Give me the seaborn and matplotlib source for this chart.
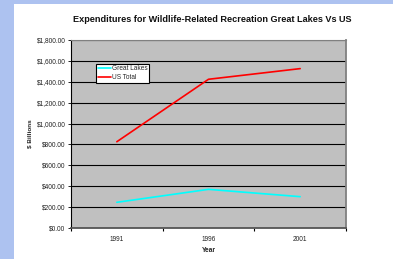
import matplotlib
matplotlib.use("Agg")
import matplotlib.pyplot as plt
from matplotlib.patches import Rectangle
import seaborn as sns
import pandas as pd

years = ["1991", "1996", "2001"]
great_lakes = [246, 370, 300]
us_total = [826, 1424, 1526]

df = pd.DataFrame({
    "Year": years * 2,
    "Spend": great_lakes + us_total,
    "Series": ["Great Lakes"] * 3 + ["US Total"] * 3,
})

sns.set_style("white")
plt.rcParams["font.family"] = ["Liberation Sans", "DejaVu Sans"]

fig = plt.figure(figsize=(3.93, 2.59), dpi=100)
fig.patch.set_facecolor("white")
# slide background strips
fig.patches.append(Rectangle((0, 0), 14 / 393, 1, transform=fig.transFigure,
                             facecolor="#adc2f0", edgecolor="none", zorder=0))
fig.patches.append(Rectangle((0, 1 - 4 / 259), 1, 4 / 259, transform=fig.transFigure,
                             facecolor="#adc2f0", edgecolor="none", zorder=0))

ax = fig.add_axes([71 / 393, 1 - 228 / 259, 275 / 393, 188 / 259])
ax.set_facecolor("#c0c0c0")

sns.lineplot(data=df, x="Year", y="Spend", hue="Series",
             palette={"Great Lakes": "#00ffff", "US Total": "#ff0000"},
             linewidth=1.2, ax=ax)

ax.set_xlim(-0.5, 2.5)
ax.set_ylim(0, 1800)
ax.set_yticks(range(0, 1801, 200))
ax.set_yticklabels([f"${v:,.2f}" for v in range(0, 1801, 200)], fontsize=4.7, color="#222222")
ax.yaxis.grid(True, color="black", linewidth=0.8)
ax.set_axisbelow(True)
ax.tick_params(axis="y", length=2.5, width=0.6, color="black", pad=1.5, left=True)

ax.set_xticks([0, 1, 2])
ax.set_xticklabels(years, fontsize=4.7, color="#222222")
ax.set_xticks([-0.5, 0.5, 1.5, 2.5], minor=True)
ax.tick_params(axis="x", which="major", length=0, pad=6)
ax.tick_params(axis="x", which="minor", length=2.5, width=0.8, color="black", bottom=True)

ax.set_xlabel("Year", fontsize=4.8, fontweight="bold", labelpad=2.5)
ax.set_ylabel("$ Billions", fontsize=4.6, fontweight="bold", labelpad=3)

for side in ["top", "right", "bottom", "left"]:
    ax.spines[side].set_visible(True)
ax.spines["left"].set_color("black")
ax.spines["left"].set_linewidth(0.8)
ax.spines["bottom"].set_color("#555555")
ax.spines["bottom"].set_linewidth(1.3)
ax.spines["right"].set_color("#808080")
ax.spines["right"].set_linewidth(1.3)
ax.spines["top"].set_color("#808080")
ax.spines["top"].set_linewidth(0.8)

leg = ax.legend(loc="upper left", bbox_to_anchor=(0.091, 0.875), fontsize=4.7,
                frameon=True, fancybox=False, edgecolor="black", framealpha=1,
                handlelength=2.0, handletextpad=0.2, borderpad=0.25,
                labelspacing=0.3, borderaxespad=0)
leg.get_frame().set_linewidth(0.8)
leg.set_title(None)

fig.text(212 / 393, 1 - 19 / 259,
         "Expenditures for Wildlife-Related Recreation Great Lakes Vs US",
         ha="center", va="center", fontsize=6.6, fontweight="bold", color="#111111")

fig.savefig("out.png", dpi=100)
